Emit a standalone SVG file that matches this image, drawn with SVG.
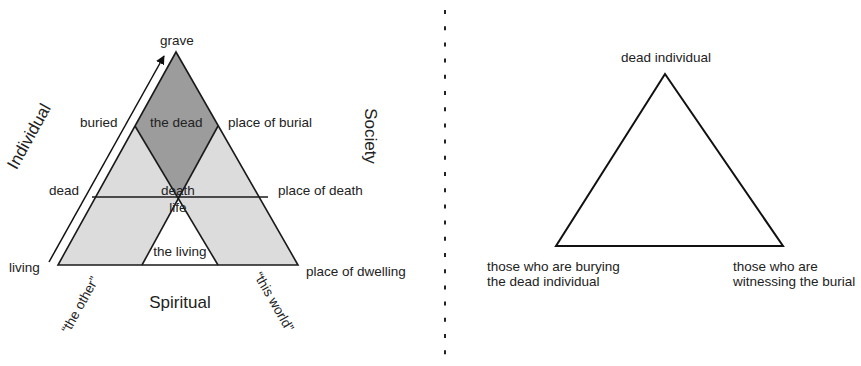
<svg xmlns="http://www.w3.org/2000/svg" width="861" height="366" viewBox="0 0 861 366">
<defs>
<style>
text{font-family:"Liberation Sans",Arial,sans-serif;font-size:13.5px;fill:#222}
.big{font-size:17px}
.ln{stroke:#1a1a1a;stroke-width:1.6;fill:none}
.m{text-anchor:middle}
</style>
<marker id="ah" viewBox="0 0 10 10" refX="9" refY="5" markerWidth="9" markerHeight="9" markerUnits="userSpaceOnUse" orient="auto">
<path d="M0,0 L10,5 L0,10 Z" fill="#111"/>
</marker>
</defs>
<rect width="861" height="366" fill="#fff"/>
<g id="left-diagram">
<polygon points="176,52 58,265 298,265" fill="#dcdcdc"/>
<polygon points="176,52 135,126 178.3,198.6 218,126" fill="#9c9c9c"/>
<polygon points="178.3,198.6 142,265 218,265" fill="#fff"/>
<polygon class="ln" points="176,52 58,265 298,265"/>
<line class="ln" x1="135" y1="126" x2="218" y2="265"/>
<line class="ln" x1="218" y1="126" x2="142" y2="265"/>
<line class="ln" x1="92" y1="197" x2="268" y2="197"/>
</g>
<g id="connectors">
<line x1="49" y1="262" x2="164" y2="56" stroke="#111" stroke-width="1.5" marker-end="url(#ah)"/>
<line x1="445" y1="10" x2="445" y2="358" stroke="#222" stroke-width="2" stroke-dasharray="4 12.2"/>
</g>
<g id="labels-left">
<text class="m" x="177" y="45">grave</text>
<text x="80" y="127">buried</text>
<text x="150" y="127">the dead</text>
<text x="228" y="127">place of burial</text>
<text x="49" y="195">dead</text>
<text class="m" x="178" y="195">death</text>
<text x="278" y="195">place of death</text>
<text class="m" x="178" y="212">life</text>
<text class="m" x="180" y="256">the living</text>
<text x="9" y="272">living</text>
<text x="306" y="276">place of dwelling</text>
<text class="m big" x="180" y="308">Spiritual</text>
<text class="m big" transform="translate(34,139) rotate(-61)" x="0" y="0">Individual</text>
<text class="m big" transform="translate(365,136) rotate(90)" x="0" y="0">Society</text>
<text class="m" transform="translate(84,307) rotate(-61)" x="0" y="0">“the other”</text>
<text class="m" transform="translate(270,304) rotate(60)" x="0" y="0">“this world”</text>
</g>
<g id="right-diagram">
<polygon points="665,74 556,246 783,246" fill="none" stroke="#111" stroke-width="2"/>
<text class="m" x="666" y="62">dead individual</text>
<text x="487" y="271">those who are burying</text>
<text x="487" y="286">the dead individual</text>
<text x="733" y="271">those who are</text>
<text x="733" y="286">witnessing the burial</text>
</g>
</svg>
